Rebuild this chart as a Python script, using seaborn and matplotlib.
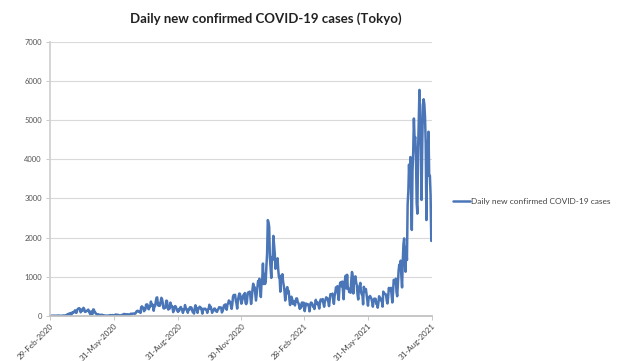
import pandas as pd
import numpy as np
import matplotlib
matplotlib.use("Agg")
import matplotlib.pyplot as plt
import seaborn as sns

# Daily new confirmed COVID-19 cases in Tokyo, one list per month
feb_2020 = [3]
mar_2020 = [1, 5, 2, 4, 8, 6, 4, 2, 4, 5, 7, 8, 6, 5, 2, 3, 5, 8, 9, 11, 7, 3, 16, 17,
            41, 47, 40, 63, 68, 13, 78]
apr_2020 = [66, 97, 89, 118, 143, 83, 79, 144, 181, 189, 197, 166, 91, 161, 127, 149,
            206, 181, 107, 102, 123, 132, 134, 161, 103, 72, 39, 112, 47, 46]
may_2020 = [165, 160, 91, 87, 58, 38, 23, 39, 36, 22, 15, 28, 10, 30, 9, 14, 5, 10, 5,
            3, 11, 3, 2, 14, 8, 21, 11, 15, 22, 14, 5]
jun_2020 = [13, 34, 12, 28, 20, 26, 14, 13, 12, 18, 22, 25, 24, 47, 48, 27, 16, 41, 35,
            39, 35, 29, 31, 55, 48, 54, 57, 60, 58, 54]
jul_2020 = [67, 107, 124, 131, 111, 102, 106, 75, 224, 243, 206, 206, 119, 143, 165,
            286, 293, 290, 188, 168, 237, 238, 366, 260, 295, 239, 131, 266, 250, 367, 463]
aug_2020 = [472, 292, 258, 309, 263, 360, 462, 429, 331, 197, 188, 222, 206, 389, 385,
            260, 161, 207, 186, 339, 258, 256, 212, 95, 182, 236, 250, 226, 148, 148, 100]
sep_2020 = [170, 141, 211, 226, 181, 148, 77, 170, 149, 276, 187, 181, 146, 80, 162,
            163, 220, 171, 218, 165, 98, 88, 59, 195, 270, 218, 144, 78, 191, 194]
oct_2020 = [235, 196, 207, 143, 59, 179, 176, 172, 186, 162, 146, 78, 166, 177, 284,
            184, 235, 150, 78, 139, 150, 185, 186, 124, 124, 102, 158, 170, 221, 218, 215]
nov_2020 = [209, 87, 122, 178, 269, 242, 294, 189, 157, 293, 317, 393, 374, 352, 255,
            180, 298, 493, 534, 522, 539, 391, 314, 186, 401, 481, 570, 561, 418, 311]
dec_2020 = [372, 500, 533, 449, 584, 327, 299, 352, 572, 602, 595, 621, 480, 305, 460,
            678, 822, 664, 736, 556, 392, 563, 748, 888, 884, 949, 708, 481, 856, 944, 1337]
jan_2021 = [814, 1070, 814, 884, 1278, 1591, 2447, 2392, 2268, 1494, 1219, 970, 1502,
            1433, 2044, 1809, 1592, 1204, 1274, 1240, 1471, 1175, 986, 986, 618, 1026,
            973, 1064, 868, 769, 633]
feb_2021 = [393, 556, 676, 734, 577, 639, 429, 276, 412, 490, 434, 307, 369, 371, 266,
            378, 445, 445, 353, 327, 272, 178, 275, 213, 340, 270, 337, 329]
mar_2021 = [121, 232, 316, 279, 301, 293, 237, 116, 290, 340, 335, 304, 239, 239, 175,
            300, 409, 323, 303, 342, 256, 187, 337, 420, 394, 376, 430, 313, 234, 364, 414]
apr_2021 = [475, 440, 446, 355, 249, 399, 555, 545, 537, 570, 421, 306, 510, 591, 729,
            667, 759, 543, 405, 711, 843, 861, 759, 876, 635, 425, 828, 925, 1027, 698]
may_2021 = [1050, 708, 708, 609, 621, 591, 907, 1121, 1032, 573, 925, 969, 1010, 854,
            772, 543, 419, 732, 766, 843, 618, 550, 535, 295, 743, 684, 614, 686, 539,
            410, 260]
jun_2021 = [471, 487, 508, 472, 436, 351, 235, 369, 440, 439, 435, 304, 304, 209, 337,
            501, 452, 453, 388, 376, 236, 619, 570, 562, 562, 534, 386, 317, 476, 714]
jul_2021 = [673, 660, 716, 518, 342, 593, 920, 896, 822, 950, 614, 502, 830, 1149, 1308,
            1271, 1410, 1008, 727, 1387, 1832, 1979, 1359, 1128, 1763, 1429, 2848, 3177,
            3865, 3300, 4058]
aug_2021 = [3058, 2195, 3709, 4166, 5042, 4515, 4566, 4066, 2884, 2612, 4200, 4989,
            5773, 5094, 4295, 2962, 4377, 5386, 5534, 5405, 5074, 4392, 2447, 4220, 4228,
            4704, 3581, 3581, 3081, 1915]

series_name = "Daily new confirmed COVID-19 cases"
title_text = "Daily new confirmed COVID-19 cases (Tokyo)"
tick_dates = ["2020-02-29", "2020-05-31", "2020-08-31", "2020-11-30",
              "2021-02-28", "2021-05-31", "2021-08-31"]
tick_labels = ["29-Feb-2020", "31-May-2020", "31-Aug-2020", "30-Nov-2020",
               "28-Feb-2021", "31-May-2021", "31-Aug-2021"]
y_ticks = [0, 1000, 2000, 3000, 4000, 5000, 6000, 7000]

cases = (feb_2020 + mar_2020 + apr_2020 + may_2020 + jun_2020 + jul_2020 + aug_2020
         + sep_2020 + oct_2020 + nov_2020 + dec_2020 + jan_2021 + feb_2021 + mar_2021
         + apr_2021 + may_2021 + jun_2021 + jul_2021 + aug_2021)
df = pd.DataFrame({
    "date": pd.date_range("2020-02-29", periods=len(cases), freq="D"),
    "cases": cases,
})
df["series"] = series_name

sns.set_theme(style="white")
plt.rcParams["font.family"] = ["Lato", "DejaVu Sans"]

fig = plt.figure(figsize=(6.18, 3.61), dpi=100)
ax = fig.add_axes([0.081, 0.125, 0.618, 0.759])

line_color = "#4a76b8"
sns.lineplot(data=df, x="date", y="cases", hue="series", palette=[line_color],
             linewidth=1.8, ax=ax)

ax.set_xlim(pd.Timestamp(tick_dates[0]), pd.Timestamp(tick_dates[-1]))
ax.set_ylim(0, 7000)
ax.set_yticks(y_ticks)
ax.set_yticklabels([str(v) for v in y_ticks], fontsize=5.5, color="#555555")
ax.set_xticks([pd.Timestamp(d) for d in tick_dates])
ax.set_xticklabels(tick_labels, rotation=45, ha="right", rotation_mode="anchor",
                   fontsize=5.8, color="#444444")
ax.set_xlabel("")
ax.set_ylabel("")

ax.grid(axis="y", color="#d9d9d9", linewidth=0.8)
ax.set_axisbelow(True)
for side in ["top", "right"]:
    ax.spines[side].set_visible(False)
ax.spines["left"].set_color("#d0d0d0")
ax.spines["bottom"].set_color("#bfbfbf")
ax.tick_params(axis="y", which="both", length=3, width=0.6, color="#bfbfbf", pad=3,
               left=True)
ax.tick_params(axis="x", which="both", length=3, width=0.6, color="#bfbfbf", pad=1.5,
               bottom=True)

leg = ax.legend(loc="center left", bbox_to_anchor=(1.035, 0.416), frameon=False,
                fontsize=6, handlelength=2.0, handletextpad=0.2)
for t in leg.get_texts():
    t.set_color("#444444")

fig.text(0.43, 0.948, title_text, ha="center", va="center", fontsize=9.5,
         fontweight="bold", color="#222222")

fig.savefig("out.png", dpi=100)
